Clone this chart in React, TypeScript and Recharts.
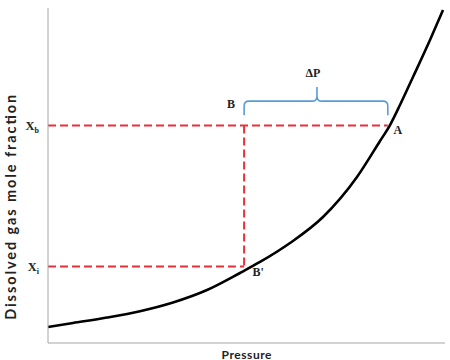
import React from "react";
import {
  LineChart,
  Line,
  XAxis,
  YAxis,
  ReferenceLine,
  ReferenceArea,
  ReferenceDot,
  Label,
} from "recharts";

// Curve samples (pressure vs dissolved gas mole fraction), arbitrary units 0..100
const pressure = [0, 6.3, 14.86, 23.17, 31.49, 40.05, 48.36, 53.4, 60.96, 69.27, 77.83, 83.63, 86.15, 88.66, 91.94, 96.22, 99.5];
const fraction = [4.78, 5.97, 7.6, 9.5, 12.1, 15.82, 20.9, 24.18, 29.85, 37.61, 49.55, 60.3, 65.07, 71.04, 79.4, 90.45, 99.4];

// Annotation values
const xb = 64.9; // X_b level
const xi = 22.8; // X_i level
const pB = 49.4; // pressure of B / B'
const pA = 85.6; // pressure of A
const braceLow = 68;
const braceHigh = 76.4;

const yTickValues = [xi, xb];
const yTickMain = ["X", "X"];
const yTickSub = ["i", "b"];

const data = pressure.map((p, i) => ({ p, f: fraction[i] }));

const RED = "#e8303a";
const BLUE = "#5b9bd5";
const AXIS = "#a6a6a6";
const SERIF = "'Liberation Serif', 'Times New Roman', serif";
const SANS = "Lato, 'Open Sans', sans-serif";

const YTick = (props: any) => {
  const { x, y, payload } = props;
  const idx = yTickValues.indexOf(payload.value);
  return (
    <text
      x={x - 1}
      y={y + 4}
      textAnchor="end"
      fontFamily={SERIF}
      fontWeight="bold"
      fontSize={12.5}
      fill="#222"
    >
      <tspan>{yTickMain[idx]}</tspan>
      <tspan fontSize={8} dy={3}>
        {yTickSub[idx]}
      </tspan>
    </text>
  );
};

const Brace = (props: any) => {
  const { x, y, width, height } = props;
  const x0 = x;
  const x1 = x + width;
  const yt = y;
  const yb = y + height;
  const ym = y + height * 0.5;
  const mx = x + width * 0.507;
  const r = 5;
  const d = `M ${x0} ${yb} L ${x0} ${ym + r} Q ${x0} ${ym} ${x0 + r} ${ym} L ${mx - r} ${ym} Q ${mx} ${ym} ${mx} ${ym - r} L ${mx} ${yt} M ${mx} ${ym - r} Q ${mx} ${ym} ${mx + r} ${ym} L ${x1 - r} ${ym} Q ${x1} ${ym} ${x1} ${ym + r} L ${x1} ${yb}`;
  return <path d={d} fill="none" stroke={BLUE} strokeWidth={1.6} />;
};

const textShape = (label: string, dx: number, dy: number, size = 12) => (p: any) => (
  <text
    x={p.cx + dx}
    y={p.cy + dy}
    textAnchor="middle"
    dominantBaseline="central"
    fontFamily={SERIF}
    fontWeight="bold"
    fontSize={size}
    fill="#222"
  >
    {label}
  </text>
);

const YTitle = (props: any) => {
  const vb = props.viewBox || {};
  const cx = 11;
  const cy = vb.y + vb.height * 0.595;
  return (
    <text
      x={cx}
      y={cy}
      transform={`rotate(-90 ${cx} ${cy})`}
      textAnchor="middle"
      dominantBaseline="central"
      fontFamily={SANS}
      fontWeight="bold"
      fontSize={14.5}
      fill="#222"
      textLength={225}
      lengthAdjust="spacing"
    >
      Dissolved gas mole fraction
    </text>
  );
};

const XTitle = (props: any) => {
  const vb = props.viewBox || {};
  const cx = vb.x + vb.width / 2;
  return (
    <text
      x={cx}
      y={354}
      textAnchor="middle"
      dominantBaseline="central"
      fontFamily={SANS}
      fontWeight="bold"
      fontSize={12}
      fill="#222"
      textLength={50}
      lengthAdjust="spacing"
    >
      Pressure
    </text>
  );
};

export default function App() {
  return (
    <div style={{ position: "absolute", left: 0, top: 0, width: 450, height: 360, background: "#fff" }}>
      <LineChart
        width={450}
        height={360}
        data={data}
        margin={{ top: 8, right: 5, left: 0, bottom: 0 }}
      >
        <XAxis
          type="number"
          dataKey="p"
          domain={[0, 100]}
          tick={false}
          tickLine={false}
          axisLine={{ stroke: AXIS, strokeWidth: 1 }}
          height={17}
        >
          <Label content={<XTitle />} />
        </XAxis>
        <YAxis
          type="number"
          domain={[0, 100]}
          ticks={yTickValues}
          tick={<YTick />}
          tickLine={false}
          axisLine={{ stroke: AXIS, strokeWidth: 1 }}
          width={48}
          interval={0}
        >
          <Label content={<YTitle />} />
        </YAxis>
        <ReferenceLine
          segment={[{ x: 0, y: xb }, { x: pA, y: xb }]}
          stroke={RED}
          strokeWidth={2}
          strokeDasharray="8 4"
        />
        <ReferenceLine
          segment={[{ x: 0, y: xi }, { x: pB, y: xi }]}
          stroke={RED}
          strokeWidth={2}
          strokeDasharray="8 4"
        />
        <ReferenceLine
          segment={[{ x: pB, y: xb }, { x: pB, y: xi }]}
          stroke={RED}
          strokeWidth={2}
          strokeDasharray="8 4"
        />
        <ReferenceArea
          x1={pB}
          x2={pA}
          y1={braceLow}
          y2={braceHigh}
          shape={<Brace />}
        />
        <Line
          type="monotone"
          dataKey="f"
          stroke="#000"
          strokeWidth={2.6}
          dot={false}
          isAnimationActive={false}
        />
        <ReferenceDot x={pB} y={xb} r={0} shape={textShape("B", -13, -22)} />
        <ReferenceDot x={pA} y={xb} r={0} shape={textShape("A", 10, 4)} />
        <ReferenceDot x={pB} y={xi} r={0} shape={textShape("B'", 14, 5)} />
        <ReferenceDot x={(pB + pA) / 2} y={braceHigh} r={0} shape={textShape("ΔP", -3, -14)} />
      </LineChart>
    </div>
  );
}
